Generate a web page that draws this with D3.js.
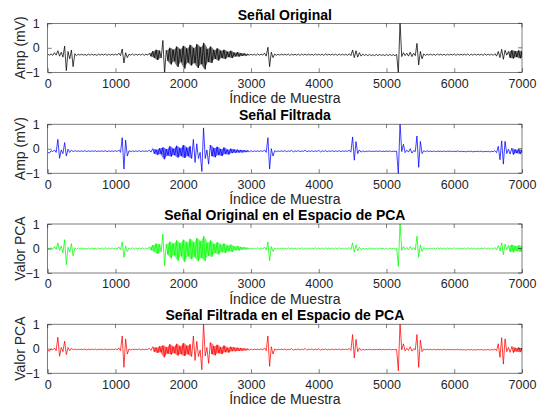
<!DOCTYPE html>
<html>
<head>
<meta charset="utf-8">
<script src="https://cdn.jsdelivr.net/npm/d3@7"></script>
<style>
  body { margin: 0; background: #fff; }
  svg { display: block; font-family: "Liberation Sans", Arial, sans-serif; }
</style>
</head>
<body>
<svg></svg>
<script>
// min / max of the signal per bin of 50 samples
let step = 50;

let origHi = [
  -0.26,-0.25,-0.20,-0.12,-0.18,0.07,-0.15,-0.09,-0.24,-0.26,
  -0.26,-0.27,-0.26,-0.26,-0.27,-0.26,-0.26,-0.25,-0.26,-0.26,
  -0.26,-0.22,-0.05,-0.20,-0.26,-0.25,-0.26,-0.26,-0.25,-0.26,
  -0.22,-0.14,-0.08,-0.12,0.30,-0.10,0.00,-0.08,0.05,-0.06,
  0.08,-0.03,0.12,-0.02,0.15,0.02,0.20,-0.05,0.05,-0.10,
  -0.02,-0.12,-0.08,-0.16,-0.12,-0.20,-0.18,-0.22,-0.23,-0.26,
  -0.26,-0.26,-0.25,-0.26,-0.22,0.02,-0.18,-0.25,-0.26,-0.26,
  -0.26,-0.25,-0.26,-0.26,-0.26,-0.25,-0.26,-0.26,-0.26,-0.25,
  -0.26,-0.26,-0.25,-0.26,-0.26,-0.26,-0.25,-0.26,-0.26,-0.24,
  -0.09,-0.12,-0.20,-0.26,-0.27,-0.27,-0.28,-0.27,-0.27,-0.28,
  -0.27,-0.27,-0.28,-0.27,1.05,-0.20,-0.22,-0.18,-0.22,0.18,
  -0.15,-0.25,-0.26,-0.26,-0.26,-0.25,-0.26,-0.26,-0.26,-0.26,
  -0.25,-0.26,-0.26,-0.26,-0.25,-0.26,-0.26,-0.26,-0.26,-0.25,
  -0.26,-0.26,-0.24,-0.15,-0.06,-0.10,-0.15,-0.10,-0.14,-0.11,
  -0.14
];
let origLo = [
  -0.30,-0.31,-0.30,-0.34,-0.38,-0.93,-0.45,-0.77,-0.32,-0.30,
  -0.30,-0.31,-0.30,-0.30,-0.31,-0.30,-0.30,-0.31,-0.30,-0.30,
  -0.30,-0.32,-0.62,-0.40,-0.30,-0.31,-0.30,-0.30,-0.31,-0.30,
  -0.34,-0.40,-0.50,-0.42,-1.05,-0.52,-0.68,-0.55,-0.78,-0.58,
  -0.85,-0.60,-0.72,-0.62,-0.82,-0.66,-0.88,-0.58,-0.62,-0.45,
  -0.52,-0.42,-0.46,-0.38,-0.42,-0.35,-0.36,-0.33,-0.32,-0.30,
  -0.30,-0.31,-0.30,-0.30,-0.34,-0.77,-0.40,-0.31,-0.30,-0.30,
  -0.30,-0.31,-0.30,-0.30,-0.31,-0.30,-0.30,-0.30,-0.31,-0.30,
  -0.30,-0.31,-0.30,-0.30,-0.30,-0.31,-0.30,-0.30,-0.31,-0.32,
  -0.40,-0.38,-0.34,-0.31,-0.32,-0.32,-0.32,-0.32,-0.31,-0.32,
  -0.32,-0.31,-0.32,-1.05,-0.36,-0.32,-0.34,-0.36,-0.32,-0.70,
  -0.45,-0.31,-0.30,-0.30,-0.31,-0.30,-0.30,-0.31,-0.30,-0.30,
  -0.31,-0.30,-0.30,-0.30,-0.31,-0.30,-0.30,-0.30,-0.31,-0.30,
  -0.30,-0.31,-0.34,-0.40,-0.47,-0.30,-0.40,-0.44,-0.38,-0.43,
  -0.40
];
// sample ranges where the trace is a dense band of noise
let origNoise = [[1500, 1650], [1750, 2950], [6800, 7000]];

let filtHi = [
  -0.14,-0.08,-0.05,0.38,-0.05,0.25,-0.02,-0.06,-0.08,-0.09,
  -0.09,-0.08,-0.09,-0.09,-0.08,-0.09,-0.09,-0.08,-0.09,-0.09,
  -0.08,-0.05,0.45,0.35,-0.08,-0.09,-0.09,-0.08,-0.09,-0.09,
  -0.06,0.00,-0.04,0.02,0.05,-0.02,0.10,0.00,0.12,0.02,
  0.15,0.04,0.10,0.38,0.20,-0.15,0.85,-0.05,0.15,0.02,
  0.08,-0.02,0.05,-0.04,0.00,-0.03,-0.04,-0.05,-0.06,-0.07,
  -0.08,-0.09,-0.09,-0.08,-0.05,0.45,0.00,-0.08,-0.09,-0.09,
  -0.08,-0.09,-0.07,-0.09,-0.08,-0.09,-0.06,-0.09,-0.08,-0.09,
  -0.07,-0.09,-0.08,-0.09,-0.08,-0.09,-0.08,-0.09,-0.09,-0.06,
  0.48,0.29,-0.05,-0.09,-0.10,-0.09,-0.10,-0.10,-0.09,-0.10,
  -0.10,-0.09,-0.10,-0.10,1.05,0.18,-0.06,0.00,-0.08,0.52,
  0.30,-0.08,-0.09,-0.10,-0.09,-0.10,-0.10,-0.09,-0.10,-0.10,
  -0.10,-0.09,-0.10,-0.11,-0.10,-0.10,-0.11,-0.10,-0.10,-0.11,
  -0.10,-0.11,-0.08,0.10,0.32,0.30,-0.02,0.02,-0.04,-0.02,
  -0.05
];
let filtLo = [
  -0.18,-0.12,-0.15,-0.39,-0.20,-0.30,-0.15,-0.12,-0.11,-0.11,
  -0.11,-0.12,-0.11,-0.11,-0.12,-0.11,-0.11,-0.12,-0.11,-0.11,
  -0.12,-0.15,-0.83,-0.30,-0.12,-0.11,-0.11,-0.12,-0.11,-0.11,
  -0.14,-0.20,-0.25,-0.22,-0.43,-0.28,-0.32,-0.26,-0.36,-0.30,
  -0.38,-0.30,-0.40,-0.56,-0.40,-0.93,-0.40,-0.63,-0.30,-0.35,
  -0.26,-0.30,-0.22,-0.24,-0.18,-0.17,-0.16,-0.15,-0.14,-0.13,
  -0.12,-0.11,-0.11,-0.12,-0.15,-0.83,-0.30,-0.12,-0.11,-0.11,
  -0.12,-0.11,-0.13,-0.11,-0.12,-0.11,-0.13,-0.11,-0.12,-0.11,
  -0.13,-0.11,-0.12,-0.11,-0.12,-0.11,-0.12,-0.11,-0.11,-0.14,
  -0.47,-0.20,-0.14,-0.12,-0.11,-0.12,-0.11,-0.11,-0.12,-0.11,
  -0.11,-0.12,-0.11,-1.05,-0.12,-0.16,-0.14,-0.18,-0.12,-0.76,
  -0.20,-0.12,-0.11,-0.12,-0.12,-0.11,-0.12,-0.12,-0.11,-0.12,
  -0.12,-0.12,-0.12,-0.13,-0.12,-0.13,-0.12,-0.12,-0.13,-0.12,
  -0.13,-0.12,-0.16,-0.45,-0.63,-0.20,-0.22,-0.24,-0.18,-0.22,
  -0.16
];
let filtNoise = [[1550, 2100], [2400, 2950], [6850, 7000]];

let pcaOrigHi = [
  0.02,0.03,0.08,0.23,0.10,0.36,0.05,0.20,0.03,0.02,
  0.02,0.01,0.02,0.02,0.01,0.02,0.02,0.03,0.02,0.02,
  0.02,0.06,0.27,0.10,0.02,0.03,0.02,0.02,0.03,0.02,
  0.06,0.14,0.20,0.16,0.59,0.18,0.28,0.20,0.33,0.22,
  0.36,0.25,0.40,0.26,0.43,0.30,0.50,0.23,0.33,0.18,
  0.26,0.16,0.20,0.12,0.16,0.08,0.10,0.06,0.05,0.02,
  0.02,0.02,0.03,0.02,0.06,0.27,0.08,0.03,0.02,0.02,
  0.02,0.03,0.02,0.02,0.02,0.03,0.02,0.02,0.02,0.03,
  0.02,0.02,0.03,0.02,0.02,0.02,0.03,0.02,0.02,0.04,
  0.23,0.15,0.05,0.02,0.01,0.02,0.01,0.01,0.02,0.01,
  0.01,0.02,0.01,0.01,1.05,0.08,0.04,0.08,0.04,0.50,
  0.15,0.03,0.02,0.02,0.02,0.03,0.02,0.02,0.02,0.02,
  0.03,0.02,0.02,0.02,0.03,0.02,0.02,0.02,0.02,0.03,
  0.02,0.02,0.04,0.12,0.23,0.18,0.12,0.15,0.10,0.13,
  0.10
];
let pcaOrigLo = [
  -0.02,-0.03,-0.04,-0.08,-0.18,-0.66,-0.15,-0.30,-0.04,-0.02,
  -0.02,-0.03,-0.02,-0.02,-0.03,-0.02,-0.02,-0.03,-0.02,-0.02,
  -0.02,-0.05,-0.36,-0.12,-0.02,-0.03,-0.02,-0.02,-0.03,-0.02,
  -0.06,-0.12,-0.22,-0.14,-0.70,-0.24,-0.40,-0.27,-0.50,-0.30,
  -0.55,-0.32,-0.44,-0.34,-0.52,-0.38,-0.50,-0.30,-0.34,-0.18,
  -0.24,-0.14,-0.18,-0.10,-0.14,-0.07,-0.08,-0.05,-0.04,-0.02,
  -0.02,-0.03,-0.02,-0.02,-0.06,-0.50,-0.12,-0.03,-0.02,-0.02,
  -0.03,-0.02,-0.02,-0.03,-0.02,-0.02,-0.03,-0.02,-0.02,-0.03,
  -0.02,-0.03,-0.02,-0.02,-0.03,-0.02,-0.02,-0.03,-0.02,-0.04,
  -0.15,-0.10,-0.05,-0.03,-0.03,-0.02,-0.03,-0.03,-0.02,-0.03,
  -0.03,-0.02,-0.03,-0.73,-0.08,-0.04,-0.06,-0.05,-0.06,-0.36,
  -0.12,-0.03,-0.02,-0.02,-0.03,-0.02,-0.02,-0.03,-0.02,-0.02,
  -0.03,-0.02,-0.02,-0.03,-0.02,-0.02,-0.03,-0.02,-0.02,-0.03,
  -0.02,-0.03,-0.05,-0.10,-0.25,-0.05,-0.12,-0.15,-0.10,-0.13,
  -0.10
];
let pcaOrigNoise = [[1500, 1650], [1750, 2950], [6800, 7000]];

let pcaFiltHi = [
  -0.06,-0.01,0.03,0.47,0.05,0.31,0.05,0.02,-0.01,-0.02,
  -0.02,-0.01,-0.02,-0.02,-0.01,-0.02,-0.02,-0.01,-0.02,-0.02,
  -0.01,0.03,0.52,0.40,-0.01,-0.02,-0.02,-0.01,-0.02,-0.02,
  0.02,0.08,0.04,0.10,0.13,0.06,0.18,0.08,0.20,0.10,
  0.23,0.12,0.18,0.52,0.30,-0.05,1.05,0.05,0.25,0.10,
  0.16,0.06,0.13,0.04,0.08,0.05,0.04,0.03,0.01,0.00,
  -0.01,-0.02,-0.02,-0.01,0.03,0.52,0.08,-0.01,-0.02,-0.02,
  -0.01,-0.02,0.00,-0.02,-0.01,-0.02,0.01,-0.02,-0.01,-0.02,
  0.00,-0.02,-0.01,-0.02,-0.01,-0.02,-0.01,-0.02,-0.02,0.01,
  0.58,0.38,0.03,-0.02,-0.03,-0.02,-0.03,-0.03,-0.02,-0.03,
  -0.03,-0.02,-0.03,-0.03,1.05,0.20,0.02,0.08,0.00,0.58,
  0.35,-0.01,-0.02,-0.03,-0.02,-0.03,-0.03,-0.02,-0.03,-0.03,
  -0.03,-0.02,-0.03,-0.04,-0.03,-0.03,-0.04,-0.03,-0.03,-0.04,
  -0.03,-0.04,-0.01,0.20,0.45,0.40,0.05,0.09,0.03,0.05,
  0.02
];
let pcaFiltLo = [
  -0.10,-0.05,-0.08,-0.31,-0.12,-0.24,-0.08,-0.05,-0.04,-0.04,
  -0.04,-0.05,-0.04,-0.04,-0.05,-0.04,-0.04,-0.05,-0.04,-0.04,
  -0.05,-0.08,-0.76,-0.22,-0.05,-0.04,-0.04,-0.05,-0.04,-0.04,
  -0.07,-0.12,-0.17,-0.14,-0.35,-0.20,-0.24,-0.18,-0.28,-0.22,
  -0.30,-0.22,-0.32,-0.48,-0.32,-0.86,-0.30,-0.60,-0.22,-0.27,
  -0.18,-0.22,-0.14,-0.16,-0.10,-0.10,-0.09,-0.08,-0.07,-0.06,
  -0.05,-0.04,-0.04,-0.05,-0.08,-0.72,-0.22,-0.05,-0.04,-0.04,
  -0.05,-0.04,-0.06,-0.04,-0.05,-0.04,-0.06,-0.04,-0.05,-0.04,
  -0.06,-0.04,-0.05,-0.04,-0.05,-0.04,-0.05,-0.04,-0.04,-0.07,
  -0.38,-0.12,-0.07,-0.05,-0.04,-0.05,-0.04,-0.04,-0.05,-0.04,
  -0.04,-0.05,-0.04,-0.90,-0.05,-0.09,-0.07,-0.10,-0.05,-0.76,
  -0.12,-0.05,-0.04,-0.05,-0.05,-0.04,-0.05,-0.05,-0.04,-0.05,
  -0.05,-0.05,-0.05,-0.06,-0.05,-0.06,-0.05,-0.05,-0.06,-0.05,
  -0.06,-0.05,-0.08,-0.35,-0.63,-0.12,-0.15,-0.16,-0.11,-0.14,
  -0.10
];
let pcaFiltNoise = [[1550, 2100], [2400, 2950], [6850, 7000]];

let xTicks = [0, 1000, 2000, 3000, 4000, 5000, 6000, 7000];
let yTicks = [-1, 0, 1];

let panels = [
  { title: 'Señal Original', ylabel: 'Amp (mV)', hi: origHi, lo: origLo, noise: origNoise, color: '#000000' },
  { title: 'Señal Filtrada', ylabel: 'Amp (mV)', hi: filtHi, lo: filtLo, noise: filtNoise, color: '#0000ff' },
  { title: 'Señal Original en el Espacio de PCA', ylabel: 'Valor PCA', hi: pcaOrigHi, lo: pcaOrigLo, noise: pcaOrigNoise, color: '#00ff00' },
  { title: 'Señal Filtrada en el Espacio de PCA', ylabel: 'Valor PCA', hi: pcaFiltHi, lo: pcaFiltLo, noise: pcaFiltNoise, color: '#ff0000' }
];

let width = 537;
let height = 408;
let left = 47.7;
let right = 522;
let tops = [23.3, 124.2, 224, 324.2];
let plotH = 49;
let tickLen = 4;
let axisColor = '#262626';
let font = '"Liberation Sans", Arial, sans-serif';

let svg = d3.select('svg')
  .attr('width', width)
  .attr('height', height)

let xScale = d3.scaleLinear()
  .domain([0, 7000])
  .range([left, right])

// zigzag through the bins: max at the start, min half way
let toPoints = (hi, lo) => {
  let pts = [];
  hi.forEach((h, i) => {
    pts.push([i * step, h]);
    pts.push([i * step + step / 2, lo[i]]);
  })
  return pts;
}

let inNoise = (s, ranges) => ranges.some(r => s >= r[0] && s <= r[1]);

let drawPanel = (p, k) => {
  let top = tops[k];
  let yScale = d3.scaleLinear()
    .domain([-1, 1])
    .range([top + plotH, top])

  let g = svg.append('g')

  g.append('clipPath')
    .attr('id', 'clip' + k)
    .append('rect')
    .attr('x', left)
    .attr('y', top)
    .attr('width', right - left)
    .attr('height', plotH)

  // dense noise drawn as a filled min/max band
  let band = d3.area()
    .defined((d, i) => inNoise(i * step, p.noise))
    .x((d, i) => xScale(Math.min(i * step + step / 4, 7000)))
    .y0((d, i) => yScale(p.lo[i]))
    .y1(d => yScale(d))

  g.append('path')
    .datum(p.hi)
    .attr('clip-path', `url(#clip${k})`)
    .attr('fill', p.color)
    .attr('fill-opacity', 0.55)
    .attr('d', band)

  let line = d3.line()
    .x(d => xScale(Math.min(d[0], 7000)))
    .y(d => yScale(d[1]))

  g.append('path')
    .datum(toPoints(p.hi, p.lo))
    .attr('clip-path', `url(#clip${k})`)
    .attr('fill', 'none')
    .attr('stroke', p.color)
    .attr('stroke-width', 0.75)
    .attr('stroke-linejoin', 'round')
    .attr('d', line)

  // box
  g.append('rect')
    .attr('x', left)
    .attr('y', top)
    .attr('width', right - left)
    .attr('height', plotH)
    .attr('fill', 'none')
    .attr('stroke', axisColor)
    .attr('stroke-width', 0.6)

  // x ticks inward, bottom and top
  let xAxis = d3.axisBottom(xScale)
    .tickValues(xTicks)
    .tickFormat(d3.format('d'))
    .tickSizeInner(-tickLen)
    .tickSizeOuter(0)
    .tickPadding(6.5)

  let gx = g.append('g')
    .attr('transform', `translate(0, ${top + plotH})`)
    .call(xAxis)
  gx.select('.domain').remove()
  gx.selectAll('line').attr('stroke', axisColor).attr('stroke-width', 0.6)
  gx.selectAll('text')
    .attr('fill', axisColor)
    .style('font-size', '12.5px')
    .style('font-family', font)

  g.append('g')
    .selectAll('line')
    .data(xTicks)
    .enter()
    .append('line')
    .attr('x1', d => xScale(d))
    .attr('x2', d => xScale(d))
    .attr('y1', top)
    .attr('y2', top + tickLen)
    .attr('stroke', axisColor)
    .attr('stroke-width', 0.6)

  // y ticks inward, left and right
  let yAxis = d3.axisLeft(yScale)
    .tickValues(yTicks)
    .tickFormat(d3.format('d'))
    .tickSizeInner(-tickLen)
    .tickSizeOuter(0)
    .tickPadding(8)

  let gy = g.append('g')
    .attr('transform', `translate(${left}, 0)`)
    .call(yAxis)
  gy.select('.domain').remove()
  gy.selectAll('line').attr('stroke', axisColor).attr('stroke-width', 0.6)
  gy.selectAll('text')
    .attr('fill', axisColor)
    .style('font-size', '12.5px')
    .style('font-family', font)

  g.append('g')
    .selectAll('line')
    .data(yTicks)
    .enter()
    .append('line')
    .attr('x1', right - tickLen)
    .attr('x2', right)
    .attr('y1', d => yScale(d))
    .attr('y2', d => yScale(d))
    .attr('stroke', axisColor)
    .attr('stroke-width', 0.6)

  // title
  g.append('text')
    .attr('x', (left + right) / 2)
    .attr('y', top - 3.8)
    .attr('text-anchor', 'middle')
    .attr('fill', '#000')
    .style('font-size', '14px')
    .style('font-weight', 'bold')
    .text(p.title)

  // x label
  g.append('text')
    .attr('x', (left + right) / 2)
    .attr('y', top + plotH + 31)
    .attr('text-anchor', 'middle')
    .attr('fill', axisColor)
    .style('font-size', '14px')
    .text('Índice de Muestra')

  // y label
  g.append('text')
    .attr('transform', `translate(25, ${top + plotH / 2}) rotate(-90)`)
    .attr('text-anchor', 'middle')
    .attr('fill', axisColor)
    .style('font-size', '14px')
    .text(p.ylabel)
}

panels.forEach((p, k) => drawPanel(p, k))
</script>
</body>
</html>
